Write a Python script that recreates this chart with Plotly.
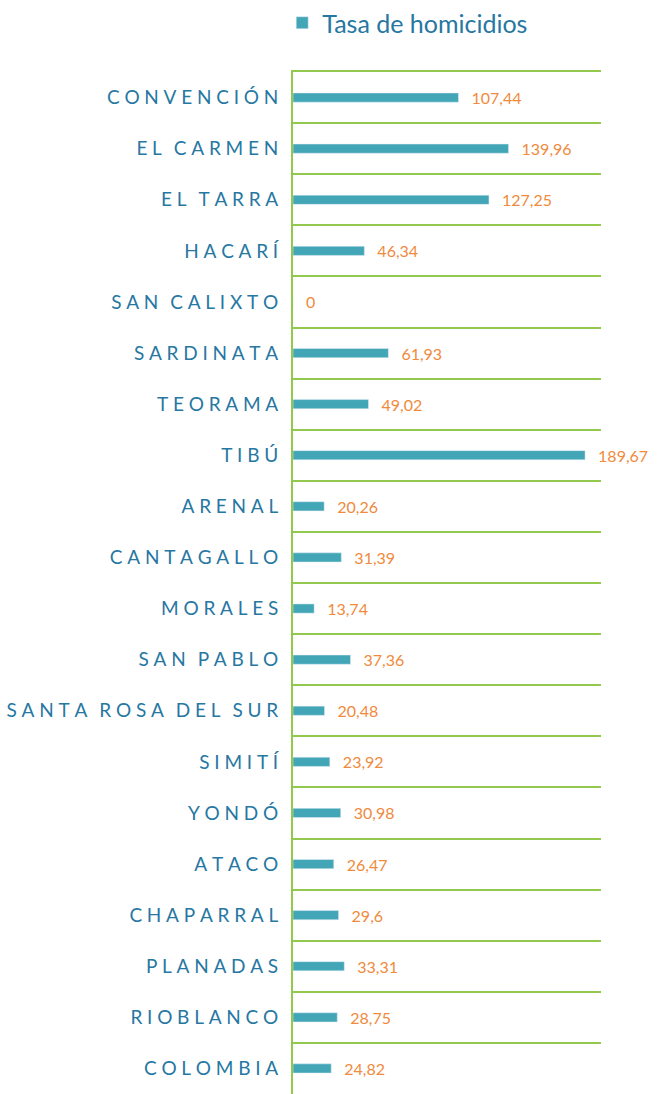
import plotly.graph_objects as go

categories = ["CONVENCIÓN", "EL CARMEN", "EL TARRA", "HACARÍ", "SAN CALIXTO",
              "SARDINATA", "TEORAMA", "TIBÚ", "ARENAL", "CANTAGALLO", "MORALES",
              "SAN PABLO", "SANTA ROSA DEL SUR", "SIMITÍ", "YONDÓ", "ATACO",
              "CHAPARRAL", "PLANADAS", "RIOBLANCO", "COLOMBIA"]
values = [107.44, 139.96, 127.25, 46.34, 0, 61.93, 49.02, 189.67, 20.26, 31.39,
          13.74, 37.36, 20.48, 23.92, 30.98, 26.47, 29.6, 33.31, 28.75, 24.82]
series_name = "Tasa de homicidios"

BAR = "#42A6B7"
ORANGE = "#F08A3C"
BLUE = "#2677A2"
GREEN = "#92C84E"

GAP = "\u2009\u2009"

def spaced(s):
    # widen letter spacing with thin spaces (text content unchanged)
    out = ""
    for i, ch in enumerate(s):
        out += ch
        if i < len(s) - 1:
            out += GAP if ch != " " else "\u2009"
    return out

labels = [spaced(c) for c in categories]
value_text = [("{:g}".format(v)).replace(".", ",") for v in values]

fig = go.Figure(go.Bar(
    x=values, y=labels, orientation="h", name=series_name,
    marker=dict(color=BAR),
    text=["\u2002\u2009" + t for t in value_text],
    textposition="outside", cliponaxis=False, constraintext="none",
    textfont=dict(color=ORANGE, size=16, family="Lato"),
    showlegend=True,
))

fig.update_layout(
    width=657, height=1094,
    margin=dict(l=293, r=56, t=72, b=0, autoexpand=False),
    plot_bgcolor="white", paper_bgcolor="white",
    bargap=0.82,
    font=dict(family="Lato", color=BLUE),
    legend=dict(orientation="h", x=-0.035, xanchor="left", y=1.0, yanchor="top",
                yref="container", font=dict(size=25, color=BLUE),
                itemwidth=30, traceorder="normal"),
    xaxis=dict(range=[0, 200], side="top", showline=True, linecolor=GREEN,
               linewidth=2, showticklabels=False, ticks="", showgrid=False,
               zeroline=False),
    yaxis=dict(autorange="reversed", tickson="boundaries", showgrid=True,
               gridcolor=GREEN, gridwidth=2, showline=True, linecolor=GREEN,
               linewidth=2, ticks="", ticklabelstandoff=9,
               tickfont=dict(size=19, color=BLUE, family="Lato")),
)

fig.write_html("out.html", config={"displayModeBar": False},
               post_script="document.body.style.margin='0';")
